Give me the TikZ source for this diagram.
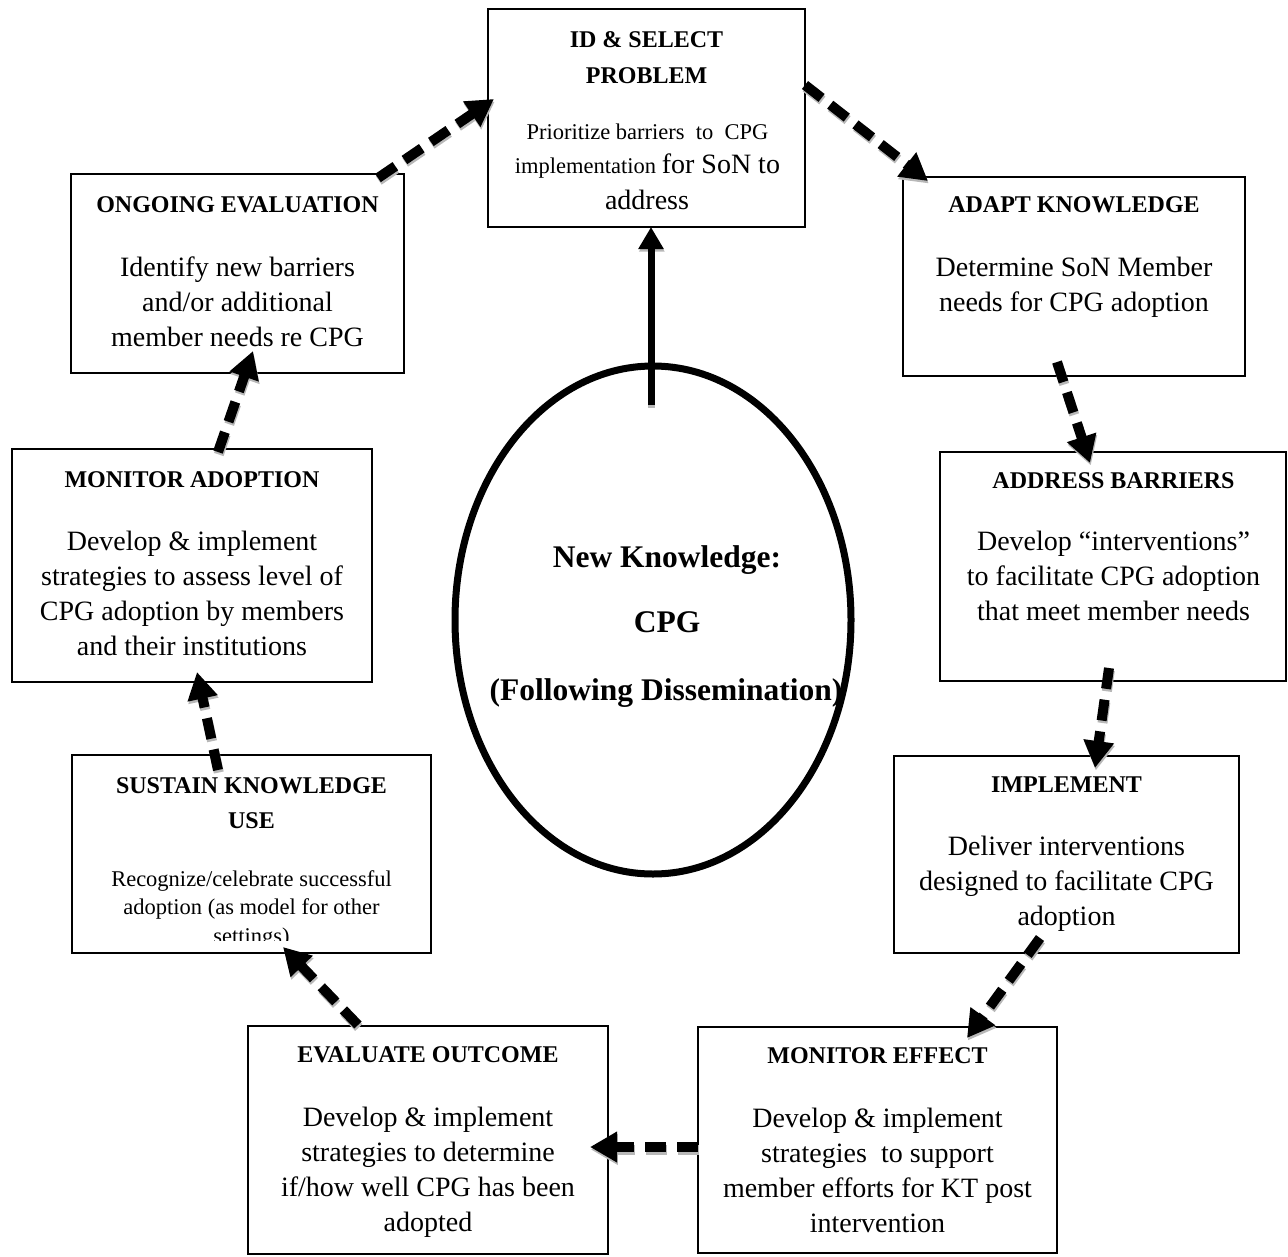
\documentclass[tikz,border=0pt]{standalone}
\usepackage{fontspec}
\setmainfont{Liberation Serif}
\usetikzlibrary{arrows.meta,shapes.geometric}
\newcommand\flowarrow[2]{%
  \draw[flow,draw=black!28,transform canvas={shift={(0.8pt,-2.5pt)}}] #1 -- #2;
  \draw[flow] #1 -- #2;}
\begin{document}
\begin{tikzpicture}[x=1pt,y=-1pt,
  stepbox/.style={draw,line width=2.5pt,rectangle,inner sep=0pt,outer sep=0pt,anchor=north west},
  ttl/.style={anchor=base,inner sep=0pt,font=\fontsize{24}{30}\selectfont\bfseries},
  bdy/.style={anchor=base,inner sep=0pt,font=\fontsize{28}{35}\selectfont},
  sml/.style={anchor=base,inner sep=0pt,font=\fontsize{22.5}{28}\selectfont},
  bigt/.style={anchor=base,inner sep=0pt,font=\fontsize{31.5}{36}\selectfont\bfseries},
  flow/.style={line width=10pt,dash pattern=on 21pt off 11pt,-{Triangle[length=27pt,width=29pt]}},
  solidflow/.style={line width=7pt,-{Triangle[length=22pt,width=24pt]}},
]
\useasboundingbox (0,0) rectangle (1288,1256);

% boxes
\node[stepbox,minimum width=317pt,minimum height=218pt] (id)   at (488,9) {};
\node[stepbox,minimum width=333pt,minimum height=199pt] (ong)  at (71,174) {};
\node[stepbox,minimum width=342pt,minimum height=199pt] (adp)  at (903,177) {};
\node[stepbox,minimum width=360pt,minimum height=233pt] (mad)  at (12,449) {};
\node[stepbox,minimum width=346pt,minimum height=229pt] (adr)  at (940,452) {};
\node[stepbox,minimum width=359pt,minimum height=198pt] (sus)  at (72,755) {};
\node[stepbox,minimum width=345pt,minimum height=197pt] (imp)  at (894,756) {};
\node[stepbox,minimum width=360pt,minimum height=228pt] (evo)  at (248,1026) {};
\node[stepbox,minimum width=359pt,minimum height=226pt] (mef)  at (698,1027) {};

% central ellipse
\node[draw,ellipse,line width=7pt,inner sep=0pt,outer sep=0pt,minimum width=396pt,minimum height=508pt] (ell) at (653,620) {};
\node[bigt] (ell1) at (667,567) {New Knowledge:};
\node[bigt] (ell2) at (667,632) {CPG};
\node[bigt] (ell3) at (666,700) {(Following Dissemination)};

% ID & SELECT PROBLEM
\node[ttl] (idt1) at (646.5,47) {ID \& SELECT};
\node[ttl] (idt2) at (646.5,83) {PROBLEM};
\node[sml] (idb1) at (647.5,139) {Prioritize barriers\ \ to\ \ CPG};
\node[sml] (idb2) at (647.5,173) {implementation {\fontsize{28}{35}\selectfont for SoN to}};
\node[bdy] (idb3) at (647,209) {address};

% ONGOING EVALUATION
\node[ttl] (ongt) at (237.5,212) {ONGOING EVALUATION};
\node[bdy] (ongb1) at (237.5,276) {Identify new barriers};
\node[bdy] (ongb2) at (237.5,311) {and/or additional};
\node[bdy] (ongb3) at (237.5,346) {member needs re CPG};

% ADAPT KNOWLEDGE
\node[ttl] (adpt) at (1074,212) {ADAPT KNOWLEDGE};
\node[bdy] (adpb1) at (1074,276) {Determine SoN Member};
\node[bdy] (adpb2) at (1074,311) {needs for CPG adoption};

% MONITOR ADOPTION
\node[ttl] (madt) at (192,487) {MONITOR ADOPTION};
\node[bdy] (madb1) at (192,550) {Develop \& implement};
\node[bdy] (madb2) at (192,585) {strategies to assess level of};
\node[bdy] (madb3) at (192,620) {CPG adoption by members};
\node[bdy] (madb4) at (192,655) {and their institutions};

% ADDRESS BARRIERS
\node[ttl] (adrt) at (1113.5,488) {ADDRESS BARRIERS};
\node[bdy] (adrb1) at (1113.5,550) {Develop “interventions”};
\node[bdy] (adrb2) at (1113.5,585) {to facilitate CPG adoption};
\node[bdy] (adrb3) at (1113.5,620) {that meet member needs};

% SUSTAIN KNOWLEDGE USE
\node[ttl] (sust1) at (251.5,793) {SUSTAIN KNOWLEDGE};
\node[ttl] (sust2) at (251.5,828) {USE};
\begin{scope}
\clip (74,757) rectangle (429,940);
\node[sml] (susb1) at (251.5,886) {Recognize/celebrate successful};
\node[sml] (susb2) at (251.5,914) {adoption (as model for other};
\node[sml] (susb3) at (251.5,943) {settings)};
\end{scope}

% IMPLEMENT
\node[ttl] (impt) at (1066.5,792) {IMPLEMENT};
\node[bdy] (impb1) at (1066.5,855) {Deliver interventions};
\node[bdy] (impb2) at (1066.5,890) {designed to facilitate CPG};
\node[bdy] (impb3) at (1066.5,925) {adoption};

% EVALUATE OUTCOME
\node[ttl] (evot) at (428,1062) {EVALUATE OUTCOME};
\node[bdy] (evob1) at (428,1126) {Develop \& implement};
\node[bdy] (evob2) at (428,1161) {strategies to determine};
\node[bdy] (evob3) at (428,1196) {if/how well CPG has been};
\node[bdy] (evob4) at (428,1231) {adopted};

% MONITOR EFFECT
\node[ttl] (meft) at (877.5,1063) {MONITOR EFFECT};
\node[bdy] (mefb1) at (877.5,1127) {Develop \& implement};
\node[bdy] (mefb2) at (877.5,1162) {strategies\ \ to support};
\node[bdy] (mefb3) at (877.5,1197) {member efforts for KT post};
\node[bdy] (mefb4) at (877.5,1232) {intervention};

% solid arrow from ellipse to ID box
\draw[solidflow,draw=black!28,transform canvas={shift={(0.8pt,-2.5pt)}}] ([shift={(-2,39)}]ell.north) -- ([shift={(4.5,0)}]id.south);
\draw[solidflow] ([shift={(-2,39)}]ell.north) -- ([shift={(4.5,0)}]id.south);

% dashed cycle arrows
\flowarrow{([shift={(307,4)}]ong.north west)}{([shift={(6,90)}]id.north west)}
\flowarrow{([shift={(317,76)}]id.north west)}{([shift={(25,4)}]adp.north west)}
\flowarrow{([shift={(154,185)}]adp.north west)}{([shift={(150,11)}]adr.north west)}
\flowarrow{([shift={(169,216)}]adr.north west)}{([shift={(201,12)}]imp.north west)}
\flowarrow{([shift={(146,182)}]imp.north west)}{([shift={(269,11)}]mef.north west)}
\flowarrow{([shift={(0,120)}]mef.north west)}{([shift={(342,121)}]evo.north west)}
\flowarrow{([shift={(110,-1)}]evo.north west)}{([shift={(211,192)}]sus.north west)}
\flowarrow{([shift={(146,15)}]sus.north west)}{([shift={(185,223)}]mad.north west)}
\flowarrow{([shift={(206,3)}]mad.north west)}{([shift={(182,177)}]ong.north west)}
\end{tikzpicture}
\end{document}
